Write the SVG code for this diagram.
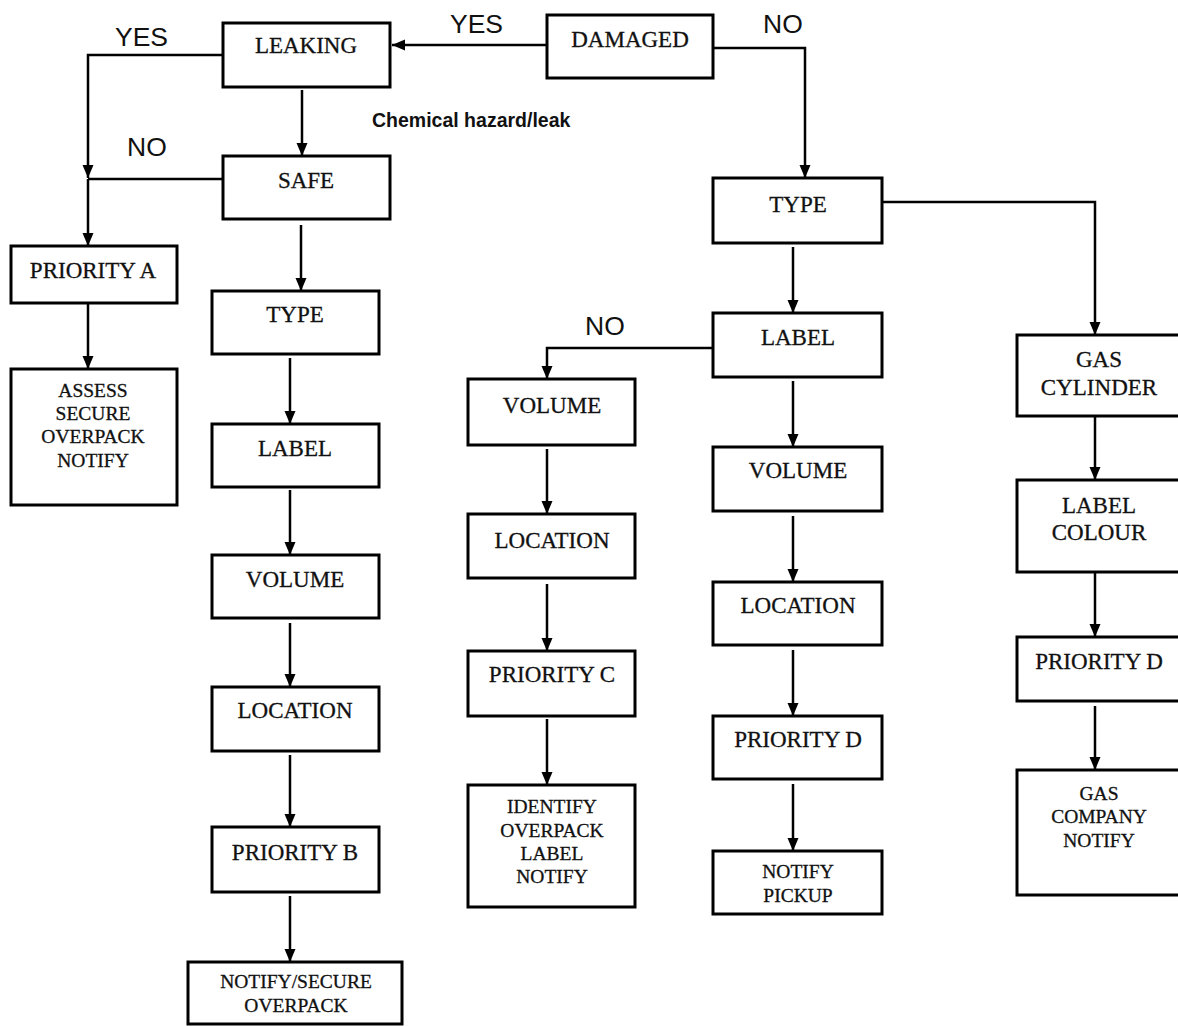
<svg xmlns="http://www.w3.org/2000/svg" width="1178" height="1026" viewBox="0 0 1178 1026">
<style>
.box{fill:#fff;stroke:#000;stroke-width:3}
.t{font-family:"Liberation Serif","Times New Roman",serif;font-size:23px;fill:#111;stroke:#111;stroke-width:0.3;text-anchor:middle}
.s{font-family:"Liberation Serif","Times New Roman",serif;font-size:19.5px;fill:#111;stroke:#111;stroke-width:0.3;text-anchor:middle}
.lbl{font-family:"Liberation Sans",Arial,sans-serif;font-size:26.5px;fill:#111}
.note{font-family:"Liberation Sans",Arial,sans-serif;font-size:19.5px;font-weight:bold;fill:#111}
.c{fill:none;stroke:#000;stroke-width:2.5}
</style>
<defs>
<marker id="ah" markerUnits="userSpaceOnUse" markerWidth="13" markerHeight="13" viewBox="0 0 13 13" refX="13" refY="6.5" orient="auto">
<path d="M0,1 L13,6.5 L0,12 Z" fill="#000"/>
</marker>
</defs>
<rect width="1178" height="1026" fill="#fff"/>
<g id="connectors">
<path class="c" d="M547,45 H392" marker-end="url(#ah)"/>
<path class="c" d="M223,55 H88 V178" marker-end="url(#ah)"/>
<path class="c" d="M223,179 H88"/>
<path class="c" d="M88,179 V246" marker-end="url(#ah)"/>
<path class="c" d="M302,90 V156" marker-end="url(#ah)"/>
<path class="c" d="M301,225 V291" marker-end="url(#ah)"/>
<path class="c" d="M290,358 V424" marker-end="url(#ah)"/>
<path class="c" d="M290,490 V555" marker-end="url(#ah)"/>
<path class="c" d="M290,623 V687" marker-end="url(#ah)"/>
<path class="c" d="M290,755 V827" marker-end="url(#ah)"/>
<path class="c" d="M290,896 V962" marker-end="url(#ah)"/>
<path class="c" d="M88,303 V369" marker-end="url(#ah)"/>
<path class="c" d="M713,48 H805 V178" marker-end="url(#ah)"/>
<path class="c" d="M793,247 V313" marker-end="url(#ah)"/>
<path class="c" d="M882,202 H1095 V335" marker-end="url(#ah)"/>
<path class="c" d="M713,348 H547 V379" marker-end="url(#ah)"/>
<path class="c" d="M793,381 V447" marker-end="url(#ah)"/>
<path class="c" d="M547,449 V514" marker-end="url(#ah)"/>
<path class="c" d="M547,584 V651" marker-end="url(#ah)"/>
<path class="c" d="M547,719 V785" marker-end="url(#ah)"/>
<path class="c" d="M793,516 V582" marker-end="url(#ah)"/>
<path class="c" d="M793,650 V716" marker-end="url(#ah)"/>
<path class="c" d="M793,784 V851" marker-end="url(#ah)"/>
<path class="c" d="M1095,416 V480" marker-end="url(#ah)"/>
<path class="c" d="M1095,572 V637" marker-end="url(#ah)"/>
<path class="c" d="M1095,706 V770" marker-end="url(#ah)"/>
</g>
<g id="labels">
<text class="lbl" x="115" y="46">YES</text>
<text class="lbl" x="127" y="156">NO</text>
<text class="lbl" x="450" y="33">YES</text>
<text class="lbl" x="763" y="33">NO</text>
<text class="lbl" x="585" y="335">NO</text>
<text class="note" x="372" y="127">Chemical hazard/leak</text>
</g>
<g id="damaged"><rect class="box" x="547" y="15" width="166" height="63"/><text class="t" x="630" y="47">DAMAGED</text></g>
<g id="leaking"><rect class="box" x="223" y="23" width="167" height="64"/><text class="t" x="306" y="53">LEAKING</text></g>
<g id="safe"><rect class="box" x="223" y="156" width="167" height="63"/><text class="t" x="306" y="188">SAFE</text></g>
<g id="priority-a"><rect class="box" x="11" y="246" width="166" height="57"/><text class="t" x="93" y="278">PRIORITY A</text></g>
<g id="assess"><rect class="box" x="11" y="369" width="166" height="136"/><text class="s" x="93" y="397">ASSESS</text><text class="s" x="93" y="420">SECURE</text><text class="s" x="93" y="443">OVERPACK</text><text class="s" x="93" y="467">NOTIFY</text></g>
<g id="type-l"><rect class="box" x="212" y="291" width="167" height="63"/><text class="t" x="295" y="322">TYPE</text></g>
<g id="label-l"><rect class="box" x="212" y="424" width="167" height="63"/><text class="t" x="295" y="456">LABEL</text></g>
<g id="volume-l"><rect class="box" x="212" y="555" width="167" height="63"/><text class="t" x="295" y="587">VOLUME</text></g>
<g id="location-l"><rect class="box" x="212" y="687" width="167" height="64"/><text class="t" x="295" y="718">LOCATION</text></g>
<g id="priority-b"><rect class="box" x="212" y="827" width="167" height="65"/><text class="t" x="295" y="860">PRIORITY B</text></g>
<g id="notify-secure"><rect class="box" x="188" y="962" width="214" height="62"/><text class="s" x="296" y="988">NOTIFY/SECURE</text><text class="s" x="296" y="1012">OVERPACK</text></g>
<g id="type-r"><rect class="box" x="713" y="178" width="169" height="65"/><text class="t" x="798" y="212">TYPE</text></g>
<g id="label-r"><rect class="box" x="713" y="313" width="169" height="64"/><text class="t" x="798" y="345">LABEL</text></g>
<g id="volume-m"><rect class="box" x="468" y="379" width="167" height="66"/><text class="t" x="552" y="413">VOLUME</text></g>
<g id="location-m"><rect class="box" x="468" y="514" width="167" height="64"/><text class="t" x="552" y="548">LOCATION</text></g>
<g id="priority-c"><rect class="box" x="468" y="651" width="167" height="65"/><text class="t" x="552" y="682">PRIORITY C</text></g>
<g id="identify"><rect class="box" x="468" y="785" width="167" height="122"/><text class="s" x="552" y="813">IDENTIFY</text><text class="s" x="552" y="837">OVERPACK</text><text class="s" x="552" y="860">LABEL</text><text class="s" x="552" y="883">NOTIFY</text></g>
<g id="volume-r"><rect class="box" x="713" y="447" width="169" height="64"/><text class="t" x="798" y="478">VOLUME</text></g>
<g id="location-r"><rect class="box" x="713" y="582" width="169" height="63"/><text class="t" x="798" y="613">LOCATION</text></g>
<g id="priority-d-r"><rect class="box" x="713" y="716" width="169" height="63"/><text class="t" x="798" y="747">PRIORITY D</text></g>
<g id="notify-pickup"><rect class="box" x="713" y="851" width="169" height="63"/><text class="s" x="798" y="878">NOTIFY</text><text class="s" x="798" y="902">PICKUP</text></g>
<g id="gas-cylinder"><rect class="box" x="1017" y="335" width="170" height="81"/><text class="t" x="1099" y="367">GAS</text><text class="t" x="1099" y="395">CYLINDER</text></g>
<g id="label-colour"><rect class="box" x="1017" y="480" width="170" height="92"/><text class="t" x="1099" y="513">LABEL</text><text class="t" x="1099" y="540">COLOUR</text></g>
<g id="priority-d-gas"><rect class="box" x="1017" y="637" width="170" height="64"/><text class="t" x="1099" y="669">PRIORITY D</text></g>
<g id="gas-company"><rect class="box" x="1017" y="770" width="170" height="125"/><text class="s" x="1099" y="800">GAS</text><text class="s" x="1099" y="823">COMPANY</text><text class="s" x="1099" y="847">NOTIFY</text></g>
</svg>
